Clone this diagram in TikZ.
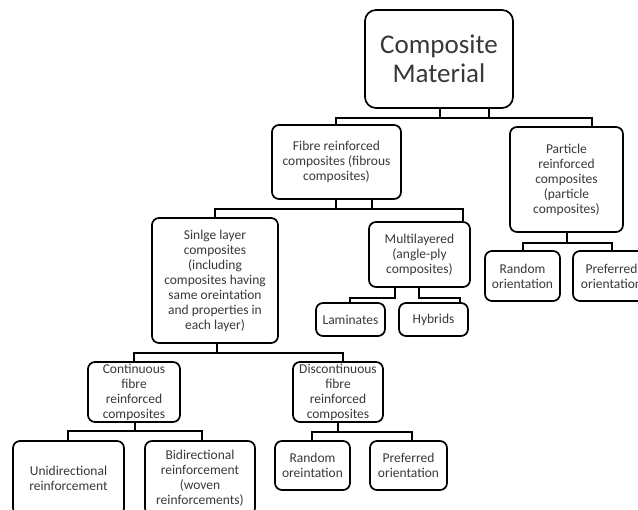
\documentclass[tikz,border=0pt]{standalone}
\usepackage{fontspec}
\setmainfont{Carlito}
\begin{document}
\begin{tikzpicture}[x=1pt,y=-1pt,
  box/.style={draw=black,line width=1.7pt,rounded corners=7pt,align=center,inner sep=0pt,
    text=black!78,font=\fontsize{13.5}{15}\selectfont},
  big/.style={box,rounded corners=11pt,font=\fontsize{27}{29}\selectfont},
  conn/.style={draw=black,line width=1.4pt}]
\useasboundingbox (0,0) rectangle (638,510);
\clip (0,0) rectangle (638,510);
% nodes
\node[big,minimum width=148pt,minimum height=98pt] (cm) at (439,59) {Composite\\Material};
\node[box,minimum width=129pt,minimum height=74pt] (fib) at (336.5,162) {Fibre reinforced\\composites (fibrous\\composites)};
\node[box,minimum width=113pt,minimum height=105pt] (par) at (566.5,179.5) {Particle\\reinforced\\composites\\(particle\\composites)};
\node[box,minimum width=126pt,minimum height=125pt] (sin) at (215,280.5) {Sinlge layer\\composites\\(including\\composites having\\same oreintation\\and properties in\\each layer)};
\node[box,minimum width=101pt,minimum height=65pt] (mul) at (419.5,254.5) {Multilayered\\(angle-ply\\composites)};
\node[box,minimum width=69pt,minimum height=33pt] (lam) at (350.5,319.5) {Laminates};
\node[box,minimum width=69pt,minimum height=33pt] (hyb) at (433.5,319.5) {Hybrids};
\node[box,minimum width=92pt,minimum height=60pt] (con) at (134,392) {Continuous\\fibre\\reinforced\\composites};
\node[box,minimum width=90pt,minimum height=60pt] (dis) at (338,392) {Discontinuous\\fibre\\reinforced\\composites};
\node[box,minimum width=111pt,minimum height=74pt] (uni) at (68.5,478) {Unidirectional\\reinforcement};
\node[box,minimum width=110pt,minimum height=74pt] (bid) at (200,478) {Bidirectional\\reinforcement\\(woven\\reinforcements)};
\node[box,minimum width=75pt,minimum height=49pt] (ran) at (312.5,465.5) {Random\\oreintation};
\node[box,minimum width=77pt,minimum height=49pt] (pre) at (408.5,465.5) {Preferred\\orientation};
\node[box,minimum width=75pt,minimum height=50pt] (ran2) at (522.5,276) {Random\\orientation};
\node[box,minimum width=77pt,minimum height=50pt] (pre2) at (611.5,276) {Preferred\\orientation};
% connectors
\draw[conn] ([xshift=1pt]cm.south) -- ++(0,9) -| ([xshift=25.5pt]par.north);
\draw[conn] ([xshift=50pt]cm.south) -- ++(0,9) -| ([xshift=-0.5pt]fib.north);
\draw[conn] ([xshift=-0.5pt]fib.south) -- ++(0,9) -| ([xshift=43.5pt]mul.north);
\draw[conn] ([xshift=35.5pt]fib.south) -- ++(0,9) -| (sin.north);
\draw[conn] ([xshift=2pt]sin.south) -- ++(0,9) -| (con.north);
\draw[conn] ([xshift=2pt]sin.south) -- ++(0,9) -| ([xshift=5pt]dis.north);
\draw[conn] ([xshift=-24.5pt]mul.south) -- ++(0,10) -| ([xshift=-0.5pt]lam.north);
\draw[conn] ([xshift=-0.5pt]mul.south) -- ++(0,10) -| ([xshift=26.5pt]hyb.north);
\draw[conn] ([xshift=1pt]con.south) -- ++(0,8) -| ([xshift=-0.5pt]uni.north);
\draw[conn] ([xshift=1pt]con.south) -- ++(0,8) -| ([xshift=2pt]bid.north);
\draw[conn] (dis.south) -- ++(0,9) -| ([xshift=-0.5pt]ran.north);
\draw[conn] (dis.south) -- ++(0,9) -| ([xshift=3.5pt]pre.north);
\draw[conn] ([xshift=0.5pt]par.south) -- ++(0,10) -| ([xshift=0.5pt]ran2.north);
\draw[conn] ([xshift=0.5pt]par.south) -- ++(0,10) -| ([xshift=0.5pt]pre2.north);
\end{tikzpicture}
\end{document}
